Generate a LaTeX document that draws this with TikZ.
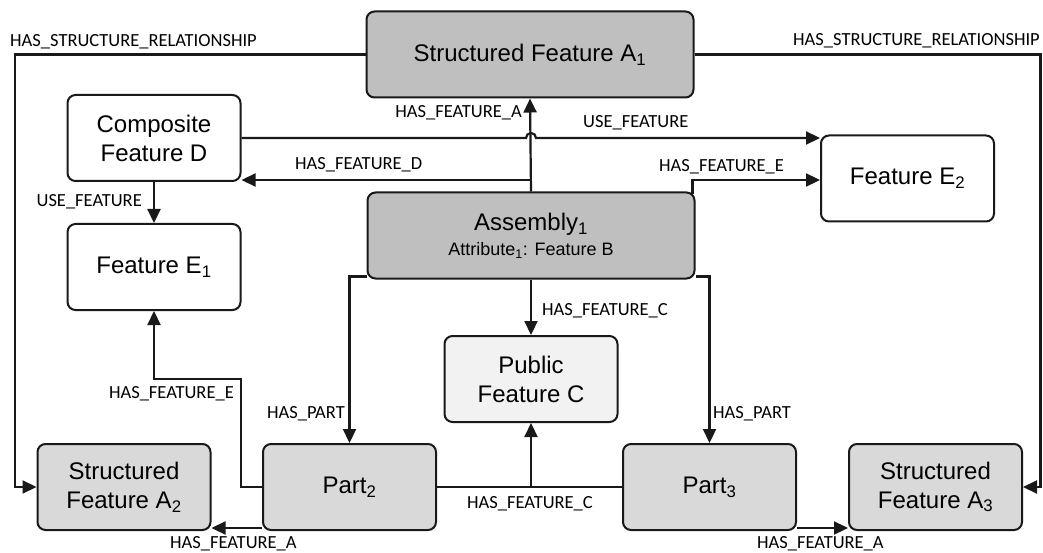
\documentclass[tikz,border=0pt]{standalone}
\usepackage{fontspec}
\setmainfont{Liberation Sans}
\newfontfamily\lblfont{Carlito}
\usetikzlibrary{arrows.meta,calc}
\begin{document}
\begin{tikzpicture}[x=1pt,y=-1pt,
  box/.style={draw=black!90, line width=2pt, rounded corners=8pt,
    minimum width=173pt, minimum height=86pt, align=center, inner sep=0pt,
    font=\fontsize{24}{29}\selectfont},
  wide/.style={box, minimum width=327pt},
  darkfill/.style={fill=black!25},
  partfill/.style={fill=black!15},
  pubfill/.style={fill=black!5},
  wfill/.style={fill=white},
  lbl/.style={font=\lblfont\fontsize{18.5}{22}\selectfont, inner sep=0pt},
  conn/.style={draw=black!90, line width=2.2pt},
  arr/.style={conn, -{Triangle[length=14pt,width=13pt]}}
]
\useasboundingbox (0,0) rectangle (1043,553);

% nodes
\node[wide, darkfill] (A1) at (530,54.5) {Structured Feature A\textsubscript{1}};
\node[box, wfill] (D) at (154,138) {Composite\\Feature D};
\node[box, wfill] (E1) at (154,267) {Feature E\textsubscript{1}};
\node[box, wfill] (E2) at (907.5,178.5) {Feature E\textsubscript{2}};
\node[wide, darkfill] (Asm) at (531,235.5) {Assembly\textsubscript{1}\\[-4pt]{\fontsize{18}{22}\selectfont Attribute\textsubscript{1}: Feature B}};
\node[box, pubfill] (C) at (531,379) {Public\\Feature C};
\node[box, partfill] (A2) at (124,487) {Structured\\Feature A\textsubscript{2}};
\node[box, partfill] (P2) at (349.5,487) {Part\textsubscript{2}};
\node[box, partfill] (P3) at (709.5,487) {Part\textsubscript{3}};
\node[box, partfill] (A3) at (935.5,487) {Structured\\Feature A\textsubscript{3}};

% helper coordinates
\coordinate (L) at (15,487);
\coordinate (R) at (1040.5,487);
\coordinate (e1turn) at (241,379);

% connectors
\draw[arr] (A1.west) -| (L) -- (A2.west);
\draw[arr] (A1.east) -| (R) -- (A3.east);
\draw[arr] (Asm.north) -- (A1.south);
\draw[arr] (D.east) -- ($(D.east -| Asm.north)+(-5pt,0)$)
  arc[start angle=180, end angle=0, radius=5pt] -- (D.east -| E2.west);
\draw[arr] (Asm.north) |- ([yshift=2pt]D.south east);
\draw[arr] ([xshift=-3pt,yshift=-3pt]Asm.north east) |- ([yshift=-1.5pt]E2.west);
\draw[arr] (D.south) -- (E1.north);
\draw[arr] ([yshift=3pt]Asm.south west) -| (P2.north);
\draw[arr] ([yshift=3pt]Asm.south east) -| (P3.north);
\draw[arr] (Asm.south) -- (C.north);
\draw[arr] (P2.west) -| (e1turn) -| (E1.south);
\draw[arr] ([yshift=3pt]P2.south west) -- ([yshift=3pt]P2.south west -| A2.east);
\draw[arr] ([yshift=3pt]P3.south east) -- ([yshift=3pt]P3.south east -| A3.west);
\draw[conn] (P2.east) -- (P3.west);
\draw[arr] (P2.east -| C.south) -- (C.south);

% labels
\node[lbl, anchor=base west] (t1) at (10,47) {HAS\_STRUCTURE\_RELATIONSHIP};
\node[lbl, anchor=base east] (t2) at (1040,45.5) {HAS\_STRUCTURE\_RELATIONSHIP};
\node[lbl, anchor=base east] (t3) at (522,118) {HAS\_FEATURE\_A};
\node[lbl, anchor=base west] (t4) at (583,128) {USE\_FEATURE};
\node[lbl, anchor=base west] (t5) at (295,170) {HAS\_FEATURE\_D};
\node[lbl, anchor=base west] (t6) at (659,172) {HAS\_FEATURE\_E};
\node[lbl, anchor=base east] (t7) at (142,207) {USE\_FEATURE};
\node[lbl, anchor=base west] (t8) at (542,315) {HAS\_FEATURE\_C};
\node[lbl, anchor=base east] (t9) at (345,418) {HAS\_PART};
\node[lbl, anchor=base west] (t10) at (713,418) {HAS\_PART};
\node[lbl, anchor=base east] (t11) at (234,398) {HAS\_FEATURE\_E};
\node[lbl, anchor=base west] (t12) at (170,548) {HAS\_FEATURE\_A};
\node[lbl, anchor=base west] (t13) at (467,508) {HAS\_FEATURE\_C};
\node[lbl, anchor=base west] (t14) at (757,548) {HAS\_FEATURE\_A};
\end{tikzpicture}
\end{document}
